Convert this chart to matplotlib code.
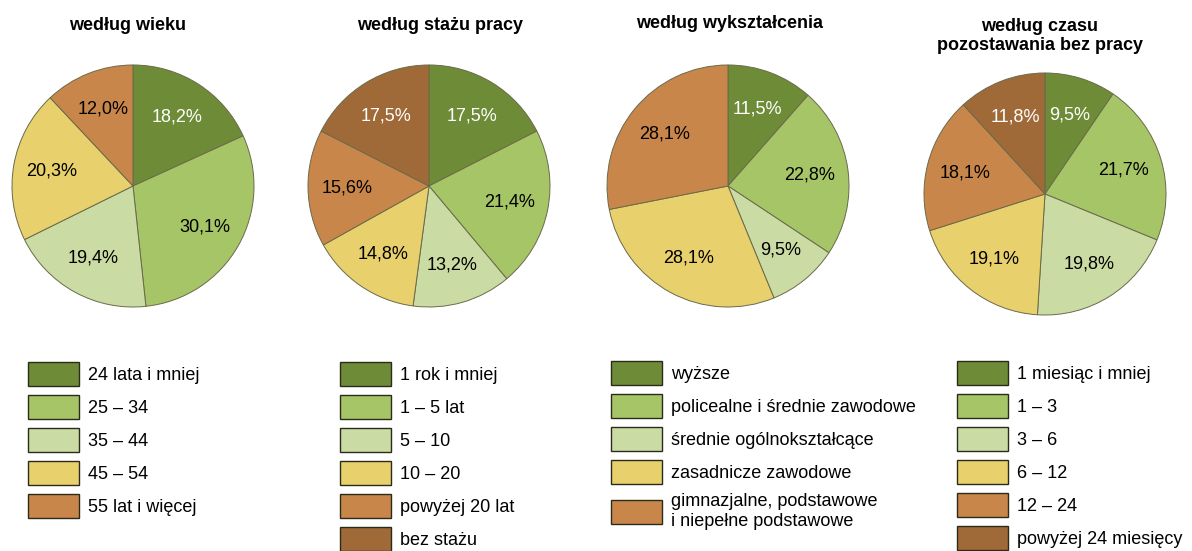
import matplotlib.pyplot as plt
from matplotlib.patches import Patch

plt.rcParams['font.family'] = ['Liberation Sans', 'DejaVu Sans']

# dane
wiek_labels = ['24 lata i mniej', '25 – 34', '35 – 44', '45 – 54', '55 lat i więcej']
wiek_values = [18.2, 30.1, 19.4, 20.3, 12.0]

staz_labels = ['1 rok i mniej', '1 – 5 lat', '5 – 10', '10 – 20', 'powyżej 20 lat', 'bez stażu']
staz_values = [17.5, 21.4, 13.2, 14.8, 15.6, 17.5]

wykszt_labels = ['wyższe', 'policealne i średnie zawodowe', 'średnie ogólnokształcące',
                 'zasadnicze zawodowe', 'gimnazjalne, podstawowe\ni niepełne podstawowe']
wykszt_values = [11.5, 22.8, 9.5, 28.1, 28.1]

czas_labels = ['1 miesiąc i mniej', '1 – 3', '3 – 6', '6 – 12', '12 – 24', 'powyżej 24 miesięcy']
czas_values = [9.5, 21.7, 19.8, 19.1, 18.1, 11.8]

titles = ['według wieku', 'według stażu pracy', 'według wykształcenia',
          'według czasu\npozostawania bez pracy']

colors = ['#6E8C37', '#A5C566', '#CADCA4', '#E8D06C', '#C9864A', '#A06A38']
white_label = [0, 5]  # indeksy kolorów z białym napisem

W, H = 1192, 551
centers = [(133, 186), (429, 186), (728, 186), (1045, 194)]
radius = 121
title_pos = [(128, 25), (440, 25), (730, 23), (1040, 36)]
legend_pos = [(28, 362), (340, 362), (611, 361), (957, 361)]

data = [(wiek_labels, wiek_values), (staz_labels, staz_values),
        (wykszt_labels, wykszt_values), (czas_labels, czas_values)]

fig = plt.figure(figsize=(W / 100, H / 100), dpi=100)


def fmt(p):
    return f'{p:.1f}'.replace('.', ',') + '%'


for i, (labels, values) in enumerate(data):
    cx, cy = centers[i]
    ax = fig.add_axes([(cx - radius) / W, (H - cy - radius) / H, 2 * radius / W, 2 * radius / H])
    cols = colors[:len(values)]
    wedges, _, pcts = ax.pie(values, colors=cols, startangle=90, counterclock=False,
                             autopct=fmt, pctdistance=0.68,
                             wedgeprops=dict(edgecolor='#6a6a4a', linewidth=0.7),
                             textprops=dict(fontsize=13))
    for k, t in enumerate(pcts):
        t.set_color('white' if k in white_label else 'black')
    ax.set_xlim(-1, 1)
    ax.set_ylim(-1, 1)
    ax.set_aspect('equal')
    ax.axis('off')

    tx, ty = title_pos[i]
    fig.text(tx / W, 1 - ty / H, titles[i], ha='center', va='center',
             fontsize=13, fontweight='bold', linespacing=1.1)

    handles = [Patch(facecolor=c, edgecolor='#2b2b1b', linewidth=1) for c in cols]
    lx, ly = legend_pos[i]
    ax.legend(handles, labels, loc='upper left', bbox_to_anchor=(lx / W, 1 - ly / H),
              bbox_transform=fig.transFigure, frameon=False, fontsize=13,
              handlelength=2.8, handleheight=1.67, handletextpad=0.55,
              labelspacing=0.5, borderpad=0, borderaxespad=0)

fig.savefig('out.png', dpi=100)
plt.close()
